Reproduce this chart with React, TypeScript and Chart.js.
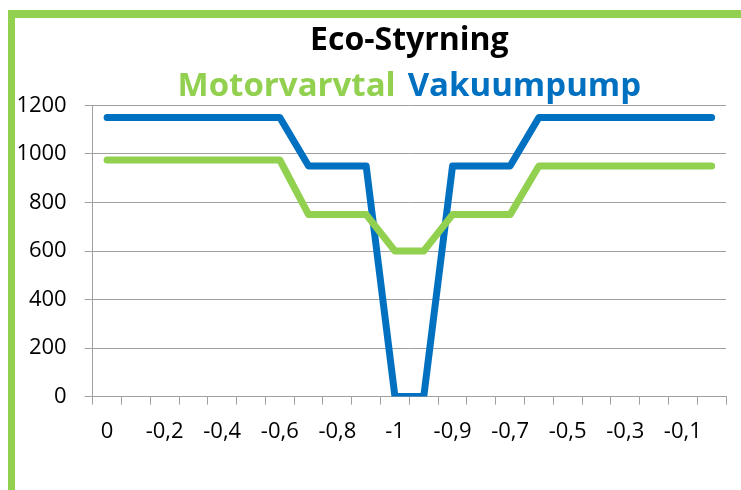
import React, { useEffect, useRef } from 'react';
import { Chart, registerables } from 'chart.js';

Chart.register(...registerables);

const categories = ['0', '-0,1', '-0,2', '-0,3', '-0,4', '-0,5', '-0,6', '-0,7', '-0,8', '-0,9', '-1', '-1', '-0,9', '-0,8', '-0,7', '-0,6', '-0,5', '-0,4', '-0,3', '-0,2', '-0,1', '0'];
const motorvarvtal = [975, 975, 975, 975, 975, 975, 975, 750, 750, 750, 600, 600, 750, 750, 750, 950, 950, 950, 950, 950, 950, 950];
const vakuumpump = [1150, 1150, 1150, 1150, 1150, 1150, 1150, 950, 950, 950, 0, 0, 950, 950, 950, 1150, 1150, 1150, 1150, 1150, 1150, 1150];
const yTicks = [0, 200, 400, 600, 800, 1000, 1200];
const seriesNames = ['Motorvarvtal', 'Vakuumpump'];
const seriesColors = ['#92D050', '#0070C0'];
const chartTitle = 'Eco-Styrning';

export default function App() {
  const canvasRef = useRef<HTMLCanvasElement | null>(null);

  useEffect(() => {
    if (!canvasRef.current) return;
    Chart.defaults.font.family = '"Open Sans", sans-serif';
    Chart.defaults.color = '#000000';
    const seriesData = [motorvarvtal, vakuumpump];
    const chart = new Chart(canvasRef.current, {
      type: 'line',
      data: {
        labels: categories,
        datasets: seriesNames.map((name, i) => ({
          label: name,
          data: seriesData[i],
          borderColor: seriesColors[i],
          backgroundColor: seriesColors[i],
          borderWidth: 7,
          borderCapStyle: 'round',
          borderJoinStyle: 'round',
          pointRadius: 0,
          pointHoverRadius: 0,
          tension: 0,
          fill: false,
        })),
      },
      options: {
        animation: false,
        responsive: true,
        maintainAspectRatio: false,
        layout: { padding: { top: 0, left: 0, right: 15, bottom: 45 } },
        plugins: {
          tooltip: { enabled: false },
          title: {
            display: true,
            text: chartTitle,
            color: '#000000',
            fullSize: false,
            font: { size: 32, weight: 'bold' },
            padding: { top: 4, bottom: -2 },
          },
          legend: {
            display: true,
            position: 'top',
            fullSize: false,
            maxHeight: 47,
            labels: {
              boxWidth: -16.5,
              boxHeight: 0,
              padding: 12,
              font: { size: 33, weight: 'bold' },
              generateLabels: () =>
                seriesNames.map((name, i) => ({
                  text: name,
                  fillStyle: 'rgba(0,0,0,0)',
                  strokeStyle: 'rgba(0,0,0,0)',
                  lineWidth: 0,
                  fontColor: seriesColors[i],
                  hidden: false,
                  datasetIndex: i,
                })),
            },
          },
        },
        scales: {
          x: {
            type: 'category',
            offset: true,
            afterFit: (scale: any) => {
              scale.height = 48.4;
            },
            grid: {
              offset: true,
              drawOnChartArea: false,
              drawTicks: true,
              tickLength: 8,
              color: '#a0a0a0',
            },
            border: { color: '#a0a0a0' },
            ticks: {
              autoSkip: false,
              maxRotation: 0,
              minRotation: 0,
              padding: 14,
              color: '#000000',
              font: { size: 22 },
              callback: (_v: any, i: number) => (i % 2 === 0 ? categories[i] : ''),
            },
          },
          y: {
            min: 0,
            max: 1200,
            afterBuildTicks: (scale: any) => {
              scale.ticks = yTicks.map((v) => ({ value: v }));
            },
            afterFit: (scale: any) => {
              scale.width = 77.7;
            },
            grid: { color: '#a0a0a0', tickLength: 8 },
            border: { color: '#a0a0a0' },
            ticks: {
              padding: 18,
              color: '#000000',
              font: { size: 22 },
              callback: (v: any) => String(v),
            },
          },
        },
      },
    });
    return () => chart.destroy();
  }, []);

  return (
    <div
      style={{
        position: 'absolute',
        left: 8,
        top: 10,
        width: 733,
        height: 480,
        boxSizing: 'border-box',
        borderTop: '8px solid #92D050',
        borderLeft: '7px solid #92D050',
        background: '#ffffff',
      }}
    >
      <div style={{ position: 'relative', width: 726, height: 472 }}>
        <canvas ref={canvasRef} />
      </div>
    </div>
  );
}
